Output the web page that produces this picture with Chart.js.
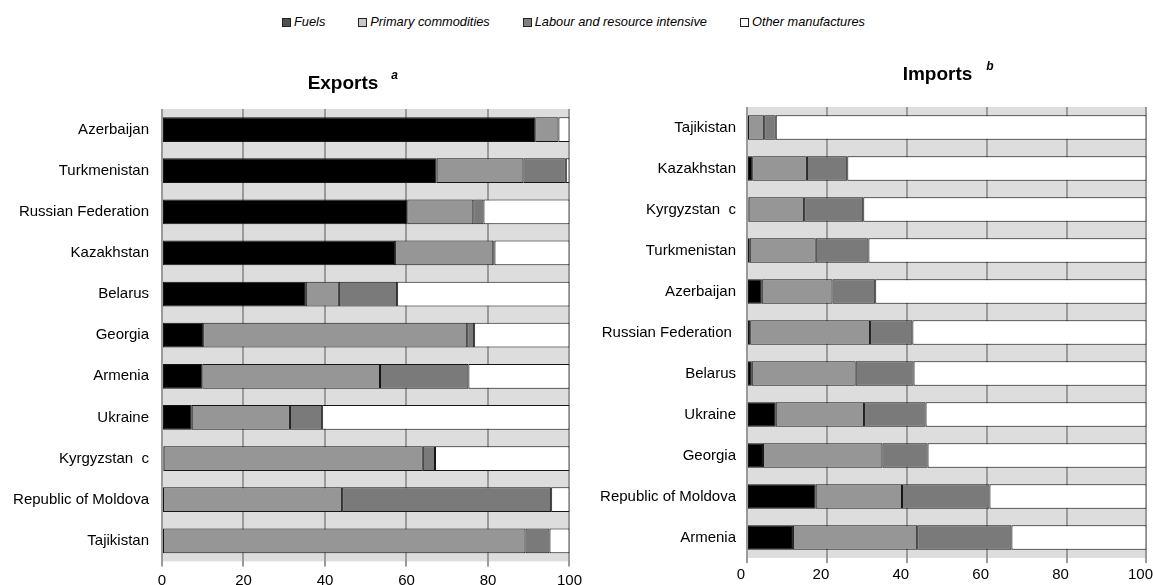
<!DOCTYPE html>
<html>
<head>
<meta charset="utf-8">
<script src="https://cdn.jsdelivr.net/npm/chart.js@4.4.1/dist/chart.umd.min.js"></script>
<style>
  html, body { margin: 0; padding: 0; overflow: hidden; background: #fff; }
  body { width: 1153px; height: 585px; position: relative; font-family: "Liberation Sans", Arial, sans-serif; }
  #legend {
    position: absolute; left: 0; top: 13px; width: 1147px;
    display: flex; justify-content: center; gap: 33px;
    font-size: 12.8px; font-style: italic; color: #000; line-height: 18px;
  }
  #legend .item { display: flex; align-items: center; white-space: nowrap; }
  #legend .sw { width: 7px; height: 7px; border: 1px solid #222; margin-right: 3px; display: inline-block; }
  canvas { position: absolute; top: 0; }
  #exports { left: 0; }
  #imports { left: 590px; }
</style>
</head>
<body>
<div id="legend"></div>
<canvas id="exports" width="587" height="585"></canvas>
<canvas id="imports" width="572" height="585"></canvas>
<script>
// Product groups (shares of total trade, per cent)
const groups = ['Fuels', 'Primary commodities', 'Labour and resource intensive', 'Other manufactures'];
const tickValues = [0, 20, 40, 60, 80, 100];

// Exports (null = no share)
const exportCountries = ['Azerbaijan', 'Turkmenistan', 'Russian Federation', 'Kazakhstan', 'Belarus', 'Georgia',
  'Armenia', 'Ukraine', 'Kyrgyzstan  c', 'Republic of Moldova', 'Tajikistan'];
const exportFuels   = [91.6, 67.4, 60.2, 57.2, 35.3, 10.1,  9.9,  7.3,  0.4, null, null];
const exportPrimary = [ 5.7, 21.3, 16.2, 24.1,  8.1, 64.8, 43.6, 24.1, 63.6, 44.2, 89.2];
const exportLabour  = [null, 10.4,  2.5,  0.3, 14.3,  1.7, 21.7,  7.9,  3.0, 51.3,  5.9];
const exportOther   = [ 2.7,  0.9, 21.1, 18.4, 42.3, 23.4, 24.8, 60.7, 33.0,  4.5,  4.9];

// Imports (null = no share)
const importCountries = ['Tajikistan', 'Kazakhstan', 'Kyrgyzstan  c', 'Turkmenistan', 'Azerbaijan',
  'Russian Federation ', 'Belarus', 'Ukraine', 'Georgia', 'Republic of Moldova', 'Armenia'];
const importFuels   = [null,  1.3,  0.4,  0.7,  3.7,  0.8,  1.2,  7.2,  4.0, 17.2, 11.5];
const importPrimary = [ 4.3, 13.7, 13.9, 16.5, 17.7, 30.0, 26.0, 22.1, 29.9, 21.6, 31.1];
const importLabour  = [ 2.9, 10.1, 14.8, 13.2, 10.7, 10.6, 14.5, 15.4, 11.3, 21.9, 23.6];
const importOther   = [92.8, 74.9, 70.9, 69.6, 67.9, 58.6, 58.3, 55.3, 54.8, 39.3, 33.8];

const FONT = '"Liberation Sans", Arial, sans-serif';
const barFills = ['#000000', '#969696', '#7a7a7a', '#ffffff'];
const legendFills = ['#505050', '#c8c8c8', '#808080', '#ffffff'];

// Legend row shared by both panels
const legendEl = document.getElementById('legend');
groups.forEach((g, i) => {
  const item = document.createElement('span');
  item.className = 'item';
  const sw = document.createElement('span');
  sw.className = 'sw';
  sw.style.background = legendFills[i];
  item.appendChild(sw);
  item.appendChild(document.createTextNode(g));
  legendEl.appendChild(item);
});

// Grey plot-area background
const plotBackground = {
  id: 'plotBackground',
  beforeDraw(chart, args, opts) {
    const { ctx, chartArea: a } = chart;
    ctx.save();
    ctx.fillStyle = opts.color;
    ctx.fillRect(a.left, a.top, a.right - a.left, a.bottom - a.top);
    ctx.restore();
  }
};

// Bold title with a small italic superscript note marker
const supTitle = {
  id: 'supTitle',
  afterDraw(chart, args, o) {
    const ctx = chart.ctx;
    ctx.save();
    ctx.fillStyle = '#000';
    ctx.textBaseline = 'alphabetic';
    ctx.textAlign = 'left';
    ctx.font = 'bold 19px ' + FONT;
    const w = ctx.measureText(o.text).width;
    const x0 = o.x - w / 2;
    ctx.fillText(o.text, x0, o.y);
    ctx.font = 'italic bold 12px ' + FONT;
    ctx.fillText(o.sup, x0 + w + o.supGap, o.y - 10);
    ctx.restore();
  }
};

function makePanel(canvasId, labels, series, cfg) {
  const datasets = series.map((data, i) => ({
    label: groups[i],
    data: data,
    backgroundColor: barFills[i],
    borderColor: '#151515',
    borderWidth: 1,
    borderSkipped: false,
    categoryPercentage: 0.6,
    barPercentage: 1.0
  }));
  return new Chart(document.getElementById(canvasId), {
    type: 'bar',
    data: { labels: labels, datasets: datasets },
    plugins: [plotBackground, supTitle],
    options: {
      indexAxis: 'y',
      responsive: false,
      animation: false,
      devicePixelRatio: 1,
      layout: { padding: cfg.padding },
      plugins: {
        legend: { display: false },
        tooltip: { enabled: false },
        plotBackground: { color: '#dddddd' },
        supTitle: cfg.title
      },
      scales: {
        x: {
          stacked: true,
          min: 0,
          max: 100,
          afterBuildTicks(scale) { scale.ticks = tickValues.map(v => ({ value: v })); },
          afterFit(scale) { scale.height = cfg.xHeight; },
          border: { display: false },
          grid: { color: '#9a9a9a', lineWidth: 2, tickLength: 5, drawTicks: true },
          ticks: {
            color: '#000',
            padding: cfg.xTickPad,
            labelOffset: cfg.xLabelOffset,
            maxRotation: 0,
            font: { family: FONT, size: 15 }
          }
        },
        y: {
          stacked: true,
          afterFit(scale) { scale.width = cfg.yWidth; },
          border: { display: false },
          grid: { display: false, drawTicks: false },
          ticks: {
            color: '#000',
            padding: cfg.yTickPad,
            autoSkip: false,
            font: { family: FONT, size: 15 }
          }
        }
      }
    }
  });
}

makePanel('exports', exportCountries,
  [exportFuels, exportPrimary, exportLabour, exportOther],
  {
    padding: { top: 109, right: 13, bottom: 0, left: 0 },
    xHeight: 23.6, yWidth: 162, yTickPad: 13, xTickPad: 5, xLabelOffset: 0,
    title: { text: 'Exports', sup: 'a', x: 343, y: 89, supGap: 13 }
  });

makePanel('imports', importCountries,
  [importFuels, importPrimary, importLabour, importOther],
  {
    padding: { top: 107, right: 14, bottom: 0, left: 0 },
    xHeight: 27, yWidth: 157, yTickPad: 11, xTickPad: 3, xLabelOffset: -6,
    title: { text: 'Imports', sup: 'b', x: 347.5, y: 80, supGap: 14 }
  });
</script>
</body>
</html>
